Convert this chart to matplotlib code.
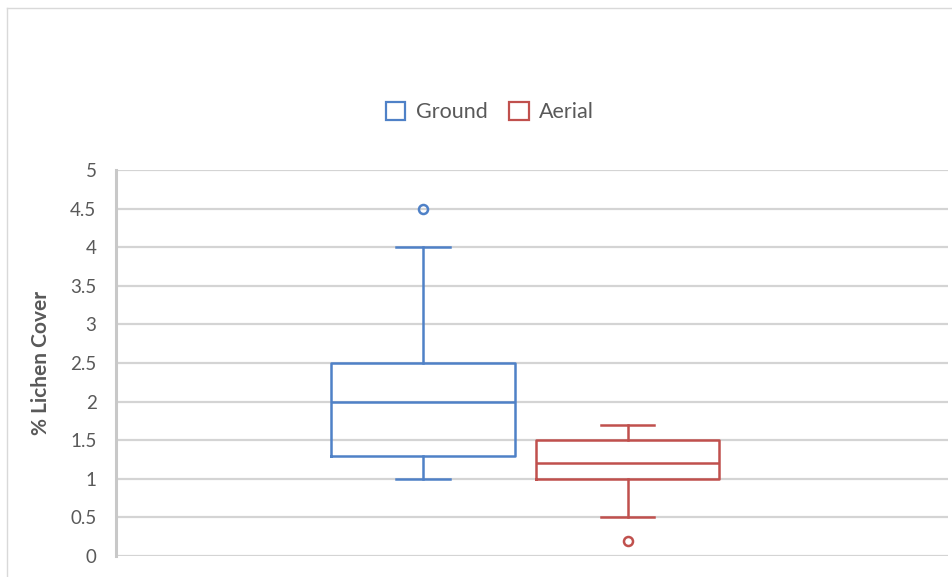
import matplotlib.pyplot as plt
from matplotlib.lines import Line2D
from matplotlib.patches import Patch

series = ["Ground", "Aerial"]
colors = ["#4f81c7", "#c0504d"]
whislo = [1.0, 0.5]
q1 = [1.3, 1.0]
med = [2.0, 1.2]
q3 = [2.5, 1.5]
whishi = [4.0, 1.7]
fliers = [[4.5], [0.2]]

yticks = [0, 0.5, 1, 1.5, 2, 2.5, 3, 3.5, 4, 4.5, 5]
ytick_labels = ["0", "0.5", "1", "1.5", "2", "2.5", "3", "3.5", "4", "4.5", "5"]

plt.rcParams['font.family'] = ['Lato', 'DejaVu Sans']

fig = plt.figure(figsize=(9.52, 5.77), dpi=100)
ax = fig.add_axes([0.1218, 0.0364, 0.874, 0.669])

positions = [0.369, 0.615]
for i in range(len(series)):
    st = [{"whislo": whislo[i], "q1": q1[i], "med": med[i], "q3": q3[i],
           "whishi": whishi[i], "fliers": fliers[i]}]
    c = colors[i]
    ax.bxp(st, positions=[positions[i]], widths=0.22, capwidths=0.064,
           showfliers=True,
           boxprops=dict(color=c, linewidth=1.8),
           medianprops=dict(color=c, linewidth=1.8),
           whiskerprops=dict(color=c, linewidth=1.8),
           capprops=dict(color=c, linewidth=1.8),
           flierprops=dict(marker="o", markerfacecolor="none", markeredgecolor=c,
                           markersize=6.5, markeredgewidth=1.8),
           zorder=3)

ax.set_xlim(0, 1)
ax.set_ylim(0, 5)
ax.set_yticks(yticks)
ax.set_yticklabels(ytick_labels)
ax.set_xticks([])
ax.yaxis.grid(True, color="#d4d4d4", linewidth=1.6)
ax.set_axisbelow(True)
ax.tick_params(axis="y", length=0, labelsize=13.5, labelcolor="#595959", pad=14)
for s in ["top", "right", "bottom"]:
    ax.spines[s].set_visible(False)
ax.spines["left"].set_color("#c8c8c8")
ax.spines["left"].set_linewidth(2.2)
ax.set_ylabel("% Lichen Cover", fontsize=15, fontweight="bold", color="#595959", labelpad=14)

handles = [Patch(facecolor="white", edgecolor=colors[i], linewidth=1.6, label=series[i])
           for i in range(len(series))]
fig.legend(handles=handles, loc="center", bbox_to_anchor=(490 / 952, 1 - 112 / 577),
           ncol=2, frameon=False, fontsize=15.5, handlelength=0.9, handleheight=0.9,
           columnspacing=1.0, handletextpad=0.5, labelcolor="#595959")

# chart border
fig.add_artist(Line2D([7 / 952, 1], [1 - 8 / 577, 1 - 8 / 577], color="#d9d9d9", linewidth=1))
fig.add_artist(Line2D([7 / 952, 7 / 952], [0, 1 - 8 / 577], color="#d9d9d9", linewidth=1))

fig.savefig("out.png", dpi=100)
